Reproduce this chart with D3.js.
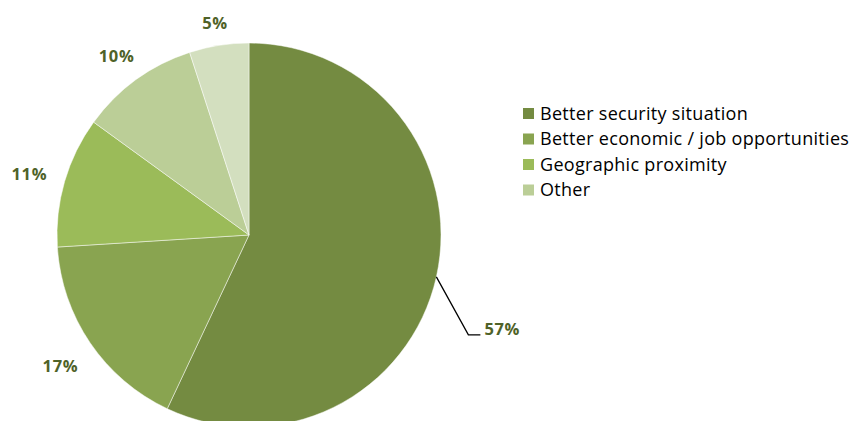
<!DOCTYPE html>
<html><head><meta charset="utf-8">
<script src="https://cdn.jsdelivr.net/npm/d3@7"></script>
<style>html,body{margin:0;padding:0;background:#fff;}svg{display:block;}</style>
</head><body>
<svg id="chart" width="853" height="421"></svg>
<script>
const categories = ["Better security situation", "Better economic / job opportunities", "Geographic proximity", "Other", "(unlabelled)"];
const values = [57, 17, 11, 10, 5];
const labels = ["57%", "17%", "11%", "10%", "5%"];
const legendItems = categories.slice(0, 4);
const colors = ["#748b41", "#89a450", "#9bbb59", "#bbce97", "#d3dfbf"];

const W = 853, H = 421;
const svg = d3.select("#chart");
const cx = 249, cy = 235, R = 192;

const color = d3.scaleOrdinal().domain(categories).range(colors);
const pie = d3.pie().sort(null).value(d => d.v);
const data = categories.map((c, i) => ({c, v: values[i], l: labels[i]}));
const arcs = pie(data);
const arc = d3.arc().innerRadius(0).outerRadius(R);

const g = svg.append("g").attr("transform", `translate(${cx},${cy})`);
g.selectAll("path").data(arcs).join("path")
  .attr("d", arc)
  .attr("fill", d => color(d.data.c))
  .attr("stroke", "#ffffff").attr("stroke-opacity", 0.6).attr("stroke-width", 0.8);

const font = "'Open Sans', sans-serif";
const labelColor = "#4f6228";

arcs.forEach((a, i) => {
  const mid = (a.startAngle + a.endAngle) / 2;
  const dx = Math.sin(mid), dy = -Math.cos(mid);
  if (i === 0) {
    const sx = dx * R, sy = dy * R;
    const ex = sx + 32, ey = sy + 58;
    g.append("path")
      .attr("d", `M${sx},${sy}L${ex},${ey}L${ex + 12},${ey}`)
      .attr("fill", "none").attr("stroke", "#000").attr("stroke-width", 1.3);
    g.append("text").attr("x", ex + 16).attr("y", ey)
      .attr("font-family", font).attr("font-weight", "bold").attr("font-size", 16.5)
      .attr("letter-spacing", 0.6)
      .attr("fill", labelColor).text(a.data.l);
  } else {
    const t = g.append("text")
      .attr("text-anchor", "middle").attr("dy", "0.36em")
      .attr("font-family", font).attr("font-weight", "bold").attr("font-size", 16.5)
      .attr("letter-spacing", 0.6)
      .attr("fill", labelColor).text(a.data.l);
    const hw = t.node().getComputedTextLength() / 2, hh = 6;
    const ext = Math.abs(dx) * hw + Math.abs(dy) * hh;
    const dist = R + 18 + ext;
    t.attr("x", dx * dist).attr("y", dy * dist + 3);
  }
});

const lg = svg.append("g").attr("transform", "translate(523,108)");
const rows = lg.selectAll("g").data(legendItems).join("g")
  .attr("transform", (d, i) => `translate(0,${i * 25.5})`);
rows.append("rect").attr("width", 11).attr("height", 11).attr("fill", d => color(d));
rows.append("text").attr("x", 17).attr("y", 5.5).attr("dy", "0.36em")
  .attr("font-family", font).attr("font-size", 18).attr("letter-spacing", 0.3)
  .attr("fill", "#000").text(d => d);
</script>
</body></html>
